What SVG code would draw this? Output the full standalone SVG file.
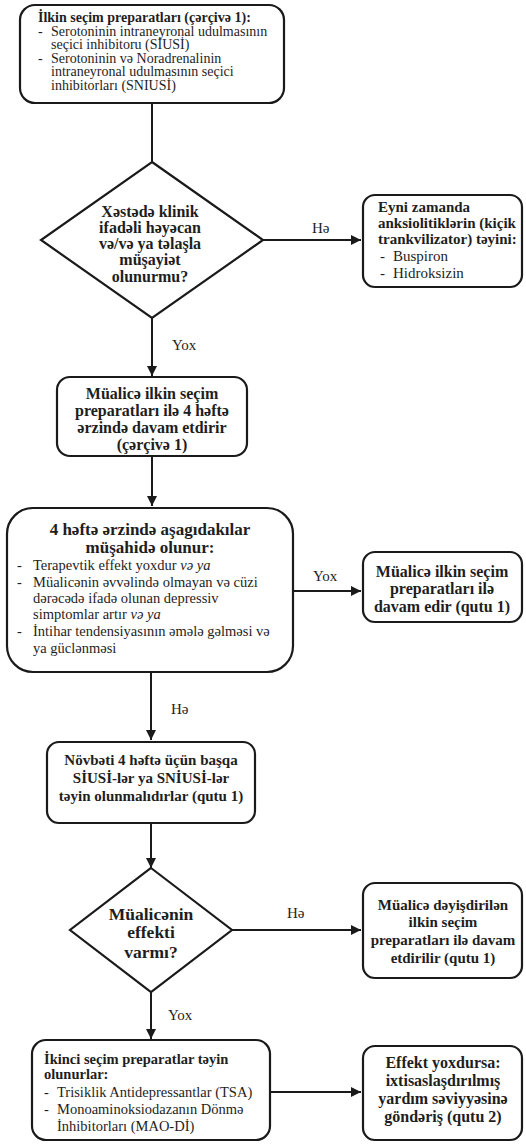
<svg xmlns="http://www.w3.org/2000/svg" width="526" height="1145" viewBox="0 0 526 1145">
<defs>
<marker id="ah" viewBox="0 0 10 10" refX="10" refY="5" markerWidth="10" markerHeight="10" markerUnits="userSpaceOnUse" orient="auto">
<path d="M0,0 L10,5 L0,10 z" fill="#1a1a1a"/>
</marker>
<style>
.box{fill:#fff;stroke:#1a1a1a;stroke-width:2.2}
.ln{fill:none;stroke:#1a1a1a;stroke-width:2}
text{font-family:"Liberation Serif","DejaVu Serif","Times New Roman",serif;fill:#1e1e1e}
.b{font-weight:bold}
.t14{font-size:14px}
.t145{font-size:14.5px}
.t15{font-size:15px}
.t16{font-size:16px}
.t17{font-size:17px}
.t175{font-size:17.5px}
.c{text-anchor:middle}
.lbl{font-size:15px}
</style>
</defs>
<rect width="526" height="1145" fill="#fff"/>

<g id="connectors">
<line class="ln" x1="152" y1="103" x2="152" y2="162"/>
<line class="ln" x1="263" y1="240" x2="361" y2="240" marker-end="url(#ah)"/>
<text class="lbl" x="312" y="233">Hə</text>
<line class="ln" x1="152" y1="318" x2="152" y2="376" marker-end="url(#ah)"/>
<text class="lbl" x="172" y="350">Yox</text>
<line class="ln" x1="152" y1="456" x2="152" y2="506" marker-end="url(#ah)"/>
<line class="ln" x1="293" y1="591" x2="361" y2="591" marker-end="url(#ah)"/>
<text class="lbl" x="313" y="581">Yox</text>
<line class="ln" x1="151" y1="672" x2="151" y2="740" marker-end="url(#ah)"/>
<text class="lbl" x="171" y="714">Hə</text>
<line class="ln" x1="151" y1="823" x2="151" y2="868" marker-end="url(#ah)"/>
<line class="ln" x1="232" y1="930" x2="361" y2="930" marker-end="url(#ah)"/>
<text class="lbl" x="287" y="918">Hə</text>
<line class="ln" x1="151" y1="992" x2="151" y2="1039" marker-end="url(#ah)"/>
<text class="lbl" x="168" y="1020">Yox</text>
<line class="ln" x1="270" y1="1092" x2="361" y2="1092" marker-end="url(#ah)"/>
</g>

<g id="n1">
<rect class="box" x="20" y="5" width="264" height="98" rx="15"/>
<text class="t14 b" x="38" y="22">İlkin seçim preparatları (çərçivə 1):</text>
<text class="t14" x="38" y="36">-</text>
<text class="t14" x="51" y="36">Serotoninin intraneyronal udulmasının</text>
<text class="t14" x="51" y="49">seçici inhibitoru (SİUSİ)</text>
<text class="t14" x="38" y="63">-</text>
<text class="t14" x="51" y="63">Serotoninin və Noradrenalinin</text>
<text class="t14" x="51" y="76">intraneyronal udulmasının seçici</text>
<text class="t14" x="51" y="90">inhibitorları (SNIUSİ)</text>
</g>

<g id="d1">
<polygon class="box" points="152,162 263,240 152,318 41,240"/>
<text class="t16 b c" x="150" y="217">Xəstədə klinik</text>
<text class="t16 b c" x="150" y="233">ifadəli həyəcan</text>
<text class="t16 b c" x="150" y="249">və/və ya təlaşla</text>
<text class="t16 b c" x="150" y="265">müşayiət</text>
<text class="t16 b c" x="150" y="282">olunurmu?</text>
</g>

<g id="r1">
<rect class="box" x="363" y="195" width="159" height="92" rx="12"/>
<text class="t15 b" x="378" y="212">Eyni zamanda</text>
<text class="t15 b" x="378" y="228">anksiolitiklərin (kiçik</text>
<text class="t15 b" x="378" y="244">trankvilizator) təyini:</text>
<text class="t15" x="380" y="261">-</text>
<text class="t15" x="393" y="261">Buspiron</text>
<text class="t15" x="380" y="278">-</text>
<text class="t15" x="393" y="278">Hidroksizin</text>
</g>

<g id="n2">
<rect class="box" x="57" y="377" width="190" height="79" rx="13"/>
<text class="t16 b c" x="152" y="399">Müalicə ilkin seçim</text>
<text class="t16 b c" x="152" y="416">preparatları ilə 4 həftə</text>
<text class="t16 b c" x="152" y="433">ərzində davam etdirir</text>
<text class="t16 b c" x="152" y="450">(çərçivə 1)</text>
</g>

<g id="n3">
<rect class="box" x="7" y="508" width="286" height="164" rx="26"/>
<text class="t17 b c" x="150" y="535">4 həftə ərzində aşagıdakılar</text>
<text class="t17 b c" x="150" y="553">müşahidə olunur:</text>
<text class="t145" x="17" y="570">-</text>
<text class="t145" x="33" y="570">Terapevtik effekt yoxdur <tspan font-style="italic">və ya</tspan></text>
<text class="t145" x="17" y="587">-</text>
<text class="t145" x="33" y="587">Müalicənin əvvəlində olmayan və cüzi</text>
<text class="t145" x="33" y="603">dərəcədə ifadə olunan depressiv</text>
<text class="t145" x="33" y="619">simptomlar artır <tspan font-style="italic">və ya</tspan></text>
<text class="t145" x="17" y="636">-</text>
<text class="t145" x="33" y="636">İntihar tendensiyasının əmələ gəlməsi və</text>
<text class="t145" x="33" y="653">ya güclənməsi</text>
</g>

<g id="r2">
<rect class="box" x="363" y="552" width="159" height="70" rx="12"/>
<text class="t16 b c" x="442" y="577">Müalicə ilkin seçim</text>
<text class="t16 b c" x="442" y="594">preparatları ilə</text>
<text class="t16 b c" x="442" y="612">davam edir (qutu 1)</text>
</g>

<g id="n4">
<rect class="box" x="47" y="742" width="208" height="81" rx="12"/>
<text class="t15 b c" x="151" y="765">Növbəti 4 həftə üçün başqa</text>
<text class="t15 b c" x="151" y="783">SİUSİ-lər ya SNİUSİ-lər</text>
<text class="t15 b c" x="151" y="801">təyin olunmalıdırlar (qutu 1)</text>
</g>

<g id="d2">
<polygon class="box" points="151,868 232,930 151,992 70,930"/>
<text class="t175 b c" x="151" y="920">Müalicənin</text>
<text class="t175 b c" x="151" y="938">effekti</text>
<text class="t175 b c" x="151" y="958">varmı?</text>
</g>

<g id="r3">
<rect class="box" x="363" y="883" width="159" height="95" rx="12"/>
<text class="t15 b c" x="443" y="910">Müalicə dəyişdirilən</text>
<text class="t15 b c" x="443" y="927">ilkin seçim</text>
<text class="t15 b c" x="443" y="945">preparatları ilə davam</text>
<text class="t15 b c" x="443" y="963">etdirilir (qutu 1)</text>
</g>

<g id="n5">
<rect class="box" x="32" y="1040" width="238" height="100" rx="14"/>
<text class="t145 b" x="44" y="1064">İkinci seçim preparatlar təyin</text>
<text class="t145 b" x="44" y="1079">olunurlar:</text>
<text class="t145" x="44" y="1097">-</text>
<text class="t145" x="57" y="1097">Trisiklik Antidepressantlar (TSA)</text>
<text class="t145" x="44" y="1114">-</text>
<text class="t145" x="57" y="1114">Monoaminoksiodazanın Dönmə</text>
<text class="t145" x="57" y="1131">İnhibitorları (MAO-Dİ)</text>
</g>

<g id="r4">
<rect class="box" x="363" y="1046" width="159" height="94" rx="12"/>
<text class="t16 b c" x="443" y="1068">Effekt yoxdursa:</text>
<text class="t16 b c" x="443" y="1086">ixtisaslaşdırılmış</text>
<text class="t16 b c" x="443" y="1104">yardım səviyyəsinə</text>
<text class="t16 b c" x="443" y="1122">göndəriş (qutu 2)</text>
</g>
</svg>
